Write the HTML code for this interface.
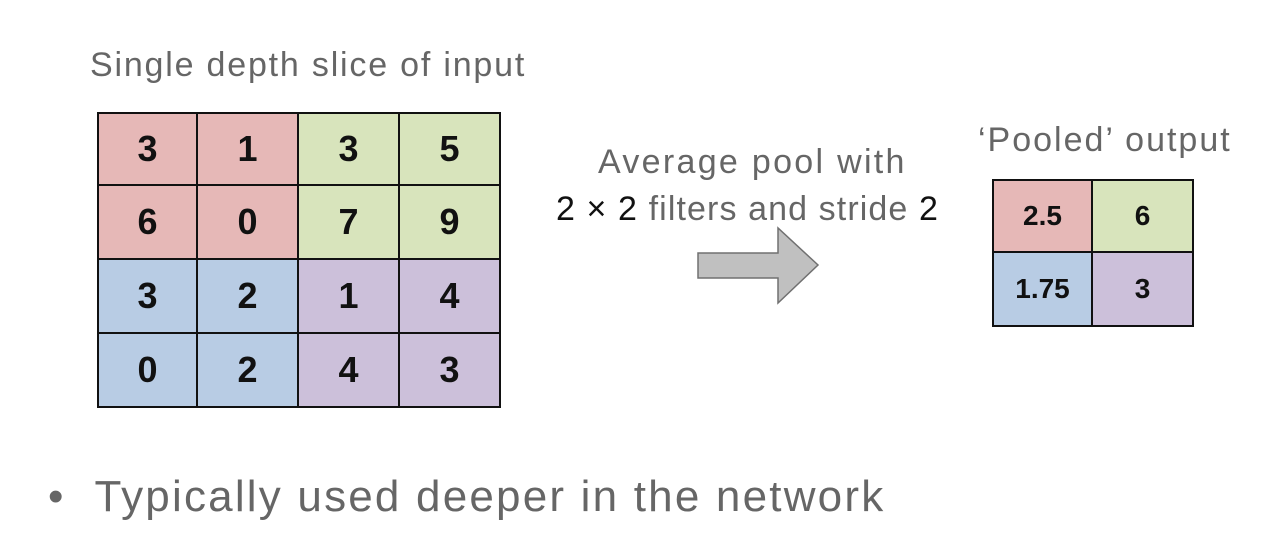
<!DOCTYPE html>
<html><head><meta charset="utf-8"><style>
body{margin:0;width:1269px;height:543px;background:#fff;position:relative;overflow:hidden;font-family:"Liberation Sans",sans-serif}
.t{position:absolute;color:#666;white-space:nowrap;font-weight:300}
.cell{position:absolute;box-sizing:border-box;border:2px solid #111;display:flex;align-items:center;justify-content:center;font-weight:bold;color:#111}
</style></head><body>
<div class="t" style="left:90px;top:46px;font-size:34px;letter-spacing:1.8px">Single depth slice of input</div>
<div class="t" style="left:598px;top:143px;font-size:34px;letter-spacing:2.3px">Average pool with</div>
<div class="t" style="left:556px;top:190px;font-size:34px;letter-spacing:1.1px"><span style="color:#111">2 × 2</span> filters and stride <span style="color:#111">2</span></div>
<div class="t" style="left:978px;top:121px;font-size:34px;letter-spacing:2px">‘Pooled’ output</div>
<div class="t" style="left:48px;top:472px;font-size:44px;letter-spacing:2.2px">•&nbsp;&nbsp;Typically used deeper in the network</div>
<div id="input-grid"></div>
<div id="output-grid"></div>
<svg style="position:absolute;left:0;top:0" width="1269" height="543">
<polygon points="698,253 778,253 778,228 818,265 778,303 778,278 698,278" fill="#c0c0c0" stroke="#707070" stroke-width="1.5"/>
</svg>
<script>
const inputValues=[[3,1,3,5],[6,0,7,9],[3,2,1,4],[0,2,4,3]];
const outputValues=[["2.5","6"],["1.75","3"]];
const colors=[["#e6b8b7","#d8e4bc"],["#b8cce4","#ccc0da"]];
function grid(id,vals,x0,y0,w,h,blk,fs){
 const g=document.getElementById(id);
 vals.forEach((row,r)=>row.forEach((v,c)=>{
  const d=document.createElement('div');
  d.className='cell';
  
  
  d.style.left=(x0+c*w-(c?2:0))+'px';d.style.top=(y0+r*h-(r?2:0))+'px';
  d.style.width=(w+(c?2:0))+'px';d.style.height=(h+(r?2:0))+'px';
  d.style.background=colors[Math.floor(r/blk)][Math.floor(c/blk)];
  d.style.fontSize=fs+'px';
  d.textContent=v;g.appendChild(d);
 }));
}
grid('input-grid',inputValues,97,112,101,74,2,36);
grid('output-grid',outputValues,992,179,101,74,1,28);
</script>
</body></html>
